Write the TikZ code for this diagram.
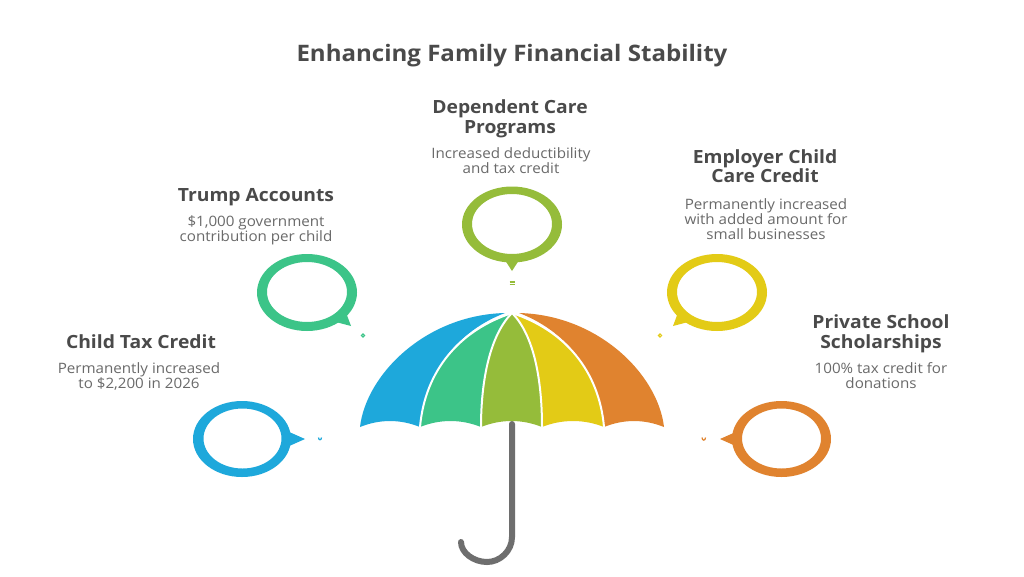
\documentclass[tikz,border=0pt]{standalone}
\usepackage{fontspec}
\setmainfont[FakeStretch=1.06]{Open Sans}
\definecolor{cblue}{HTML}{1EA8DB}
\definecolor{cgreen}{HTML}{3CC488}
\definecolor{colive}{HTML}{95BC3A}
\definecolor{cyellow}{HTML}{E3CB16}
\definecolor{corange}{HTML}{E0832F}
\definecolor{chead}{HTML}{4A4A4A}
\definecolor{cdesc}{HTML}{6A6A6A}
\definecolor{chandle}{HTML}{6E6E6E}
\tikzset{
  titletext/.style={text=chead,align=center,font=\fontsize{22.7}{26}\selectfont\bfseries},
  headtext/.style={text=chead,align=center,font=\fontsize{18.2}{19.5}\selectfont\bfseries},
  desctext/.style={text=cdesc,align=center,font=\fontsize{14.3}{15}\selectfont},
  sep/.style={draw=white,line width=2pt},
  tinymark/.style={line width=1.2pt}
}
\begin{document}
\begin{tikzpicture}[x=1pt,y=-1pt]
\useasboundingbox (0,0) rectangle (1024,576);
\fill[white] (0,0) rectangle (1024,576);
% handle
\draw[chandle,line width=6pt,line cap=round] (512,424) -- (512,537) .. controls (512,551) and (500,562) .. (487,562) .. controls (474,562) and (461,553) .. (461,542);
% canopy panels
\fill[cblue] (360,427) .. controls (366,375) and (425,315) .. (505,313) .. controls (460,330) and (425,370) .. (420,427) .. controls (400,419) and (380,419) .. (360,427) -- cycle;
\fill[cgreen] (420,427) .. controls (425,370) and (460,330) .. (512,313) .. controls (490,335) and (481,380) .. (481,427) .. controls (461,419) and (440,419) .. (420,427) -- cycle;
\fill[colive] (481,427) .. controls (481,380) and (490,335) .. (512,313) .. controls (534,335) and (542,380) .. (542,427) .. controls (522,419) and (501,419) .. (481,427) -- cycle;
\fill[cyellow] (542,427) .. controls (542,380) and (534,335) .. (512,313) .. controls (564,330) and (599,370) .. (604,427) .. controls (584,419) and (562,419) .. (542,427) -- cycle;
\fill[corange] (604,427) .. controls (599,370) and (564,330) .. (519,313) .. controls (599,315) and (658,375) .. (664,427) .. controls (644,419) and (624,419) .. (604,427) -- cycle;
\draw[sep] (420,427) .. controls (425,370) and (460,330) .. (512,313);
\draw[sep] (481,427) .. controls (481,380) and (490,335) .. (512,313);
\draw[sep] (542,427) .. controls (542,380) and (534,335) .. (512,313);
\draw[sep] (604,427) .. controls (599,370) and (564,330) .. (512,313);
% bubbles
\fill[cblue,even odd rule] (242,439) ellipse[x radius=49,y radius=38] (242.5,438.5) ellipse[x radius=39,y radius=30];
\fill[cblue] (305,439) -- (287,431) -- (287,447) -- cycle;
\fill[cgreen,even odd rule] (307,292.5) ellipse[x radius=50,y radius=38.5] (307,292) ellipse[x radius=40,y radius=30];
\fill[cgreen] (351,326) -- (345,310) -- (332,321) -- cycle;
\fill[colive,even odd rule] (512,224.5) ellipse[x radius=50,y radius=38] (512,224) ellipse[x radius=40,y radius=30];
\fill[colive] (512,271) -- (503,257) -- (521,257) -- cycle;
\fill[cyellow,even odd rule] (717,292.5) ellipse[x radius=50,y radius=38.5] (717,292) ellipse[x radius=40,y radius=30];
\fill[cyellow] (673,326) -- (679,310) -- (692,321) -- cycle;
\fill[corange,even odd rule] (781.5,439) ellipse[x radius=49.5,y radius=38] (781.5,438.5) ellipse[x radius=39.5,y radius=30];
\fill[corange] (720,439) -- (738,431) -- (738,447) -- cycle;
% small marks
\draw[cblue,tinymark] (318.5,437.5) .. controls (318.5,440.5) and (321.5,440.5) .. (321.5,437.5);
\draw[cgreen,tinymark] (363,335.5) circle[radius=1.6];
\draw[colive,tinymark] (509.5,282) -- (514.5,282) (509.5,284.5) -- (514.5,284.5);
\draw[cyellow,tinymark] (660,335.5) circle[radius=1.6];
\draw[corange,tinymark] (702,437.5) .. controls (702,441) and (705.5,441) .. (705.5,437.5);
% texts
\node[titletext] (title) at (512,55.5) {Enhancing Family Financial Stability};
\node[headtext] (h1) at (141,342) {Child Tax Credit};
\node[desctext] (d1) at (139,376) {Permanently increased\\to \$2,200 in 2026};
\node[headtext] (h2) at (256,197) {Trump Accounts};
\node[desctext] (d2) at (256,230) {\$1,000 government\\contribution per child};
\node[headtext] (h3) at (510,119) {Dependent Care\\Programs};
\node[desctext] (d3) at (511,160.5) {Increased deductibility\\and tax credit};
\node[headtext] (h4) at (765,166) {Employer Child\\Care Credit};
\node[desctext] (d4) at (766,219) {Permanently increased\\with added amount for\\small businesses};
\node[headtext] (h5) at (881,334) {Private School\\Scholarships};
\node[desctext] (d5) at (881,376) {100\% tax credit for\\donations};
\end{tikzpicture}
\end{document}
